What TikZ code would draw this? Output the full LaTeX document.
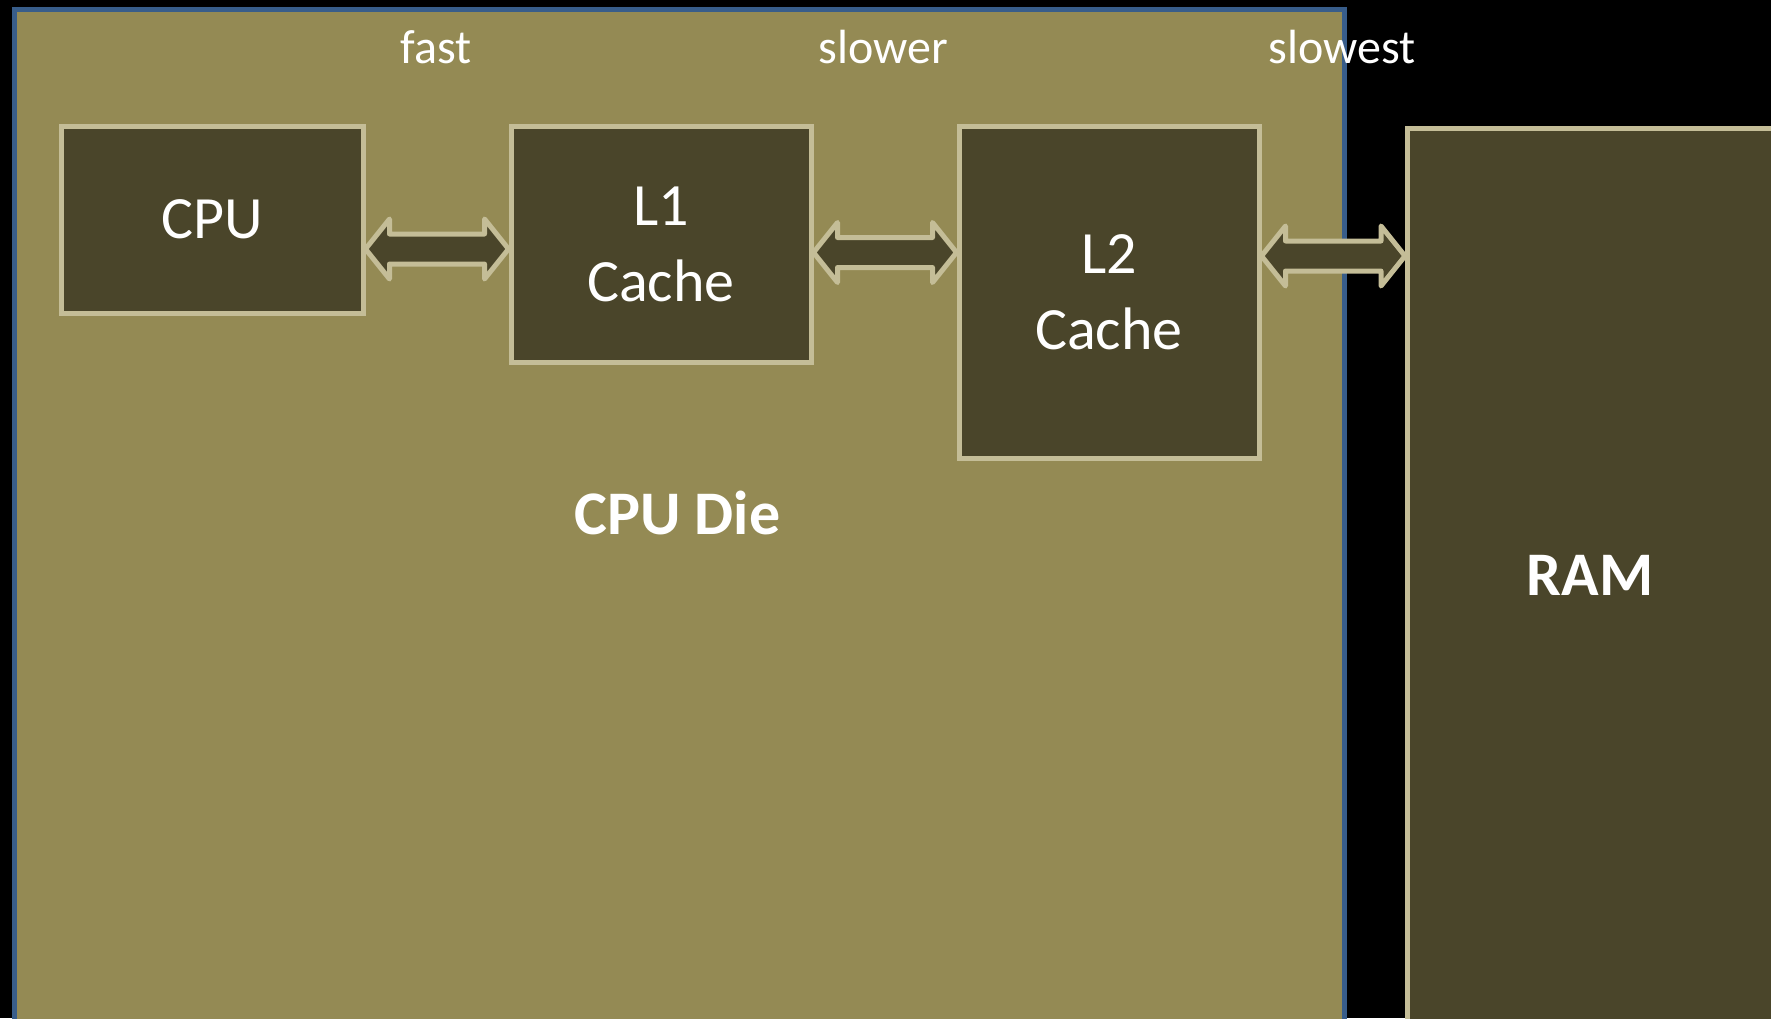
\documentclass[tikz,border=0pt]{standalone}
\usepackage{fontspec}
\setmainfont{Carlito}
\usepackage{xcolor}
\usepackage{tikz}
\usetikzlibrary{positioning, calc}
\definecolor{dieolive}{HTML}{948A54}
\definecolor{boxdark}{HTML}{4A452A}
\definecolor{boxtan}{HTML}{C4BD97}
\definecolor{dieblue}{HTML}{385D8A}
\tikzset{
    unit/.style={rectangle, draw=boxtan, fill=boxdark, line width=5pt, inner sep=0pt,
                 text=white, align=center, font=\fontsize{60}{76}\selectfont},
    die/.style={rectangle, draw=dieblue, fill=dieolive, line width=5pt, inner sep=0pt},
    speed/.style={text=white, inner sep=0pt, font=\fontsize{48}{58}\selectfont},
    title/.style={text=white, inner sep=0pt, font=\fontsize{62}{74}\selectfont\bfseries},
    link/.style={draw=boxtan, fill=boxdark, line width=5pt, line join=round}
}

\begin{document}
\begin{tikzpicture}[x=1pt, y=-1pt]
    % Page
    \useasboundingbox (0,0) rectangle (1771,1018);
    \clip (0,0) rectangle (1771,1018);
    \fill[black] (0,0) rectangle (1771,1018);

    % Die and memory
    \node[die, anchor=north west, minimum width=1330, minimum height=1100] (cpudie) at (11.5,6.5) {};
    \node[unit, anchor=north west, minimum width=420, minimum height=950] (ram) at (1405,126) {};

    % Units on the die
    \node[unit, minimum width=302, minimum height=187] (cpu) at (212,219.5) {CPU};
    \node[unit, minimum width=300, minimum height=236] (lone) at (661,244) {L1\\Cache};
    \node[unit, minimum width=300, minimum height=332] (ltwo) at (1109,292) {L2\\Cache};

    % Links
    \foreach \a/\b/\y in {cpu/lone/249, lone/ltwo/252.5, ltwo/ram/256} {
        \draw[link] (\a.east |- 0,\y) -- ++(24,-30) -- ++(0,15)
            -- ($(\b.west |- 0,\y)+(-24,-15)$) -- ++(0,-15) -- (\b.west |- 0,\y)
            -- ++(-24,30) -- ++(0,-15) -- ($(\a.east |- 0,\y)+(24,15)$) -- ++(0,15) -- cycle;
    }

    % Labels
    \node[speed] (fast) at (436,47) {fast};
    \node[speed] (slower) at (883,47) {slower};
    \node[speed] (slowest) at (1342,47) {slowest};
    \node[title] (dielabel) at (677.5,513) {CPU Die};
    \node[title] (ramlabel) at (1590,575) {RAM};
\end{tikzpicture}
\end{document}
